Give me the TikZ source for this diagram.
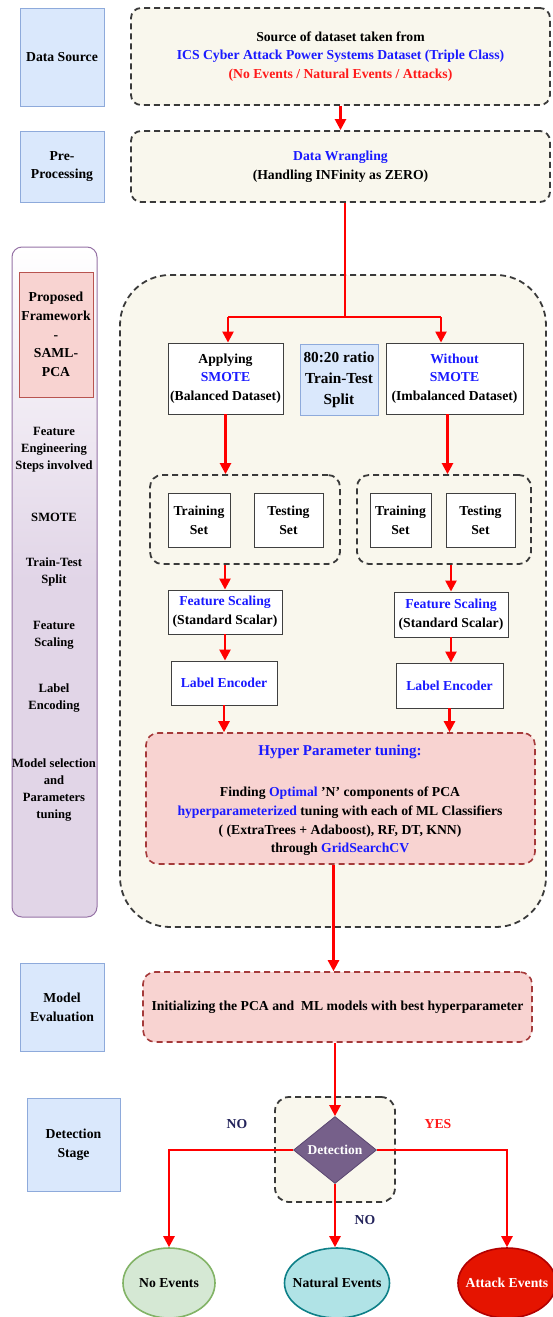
\documentclass[tikz,border=0pt]{standalone}
\usepackage{fontspec}
\setmainfont{Liberation Serif}
\usetikzlibrary{shapes.geometric,arrows.meta,calc}
\definecolor{lbF}{HTML}{DAE8FC}
\definecolor{lbB}{HTML}{8EAADB}
\definecolor{beige}{HTML}{F9F7ED}
\definecolor{dashc}{HTML}{3A3A3A}
\definecolor{pinkF}{HTML}{F8D3D1}
\definecolor{pinkB}{HTML}{B85450}
\definecolor{hpB}{HTML}{A53A3A}
\definecolor{lav}{HTML}{E1D5E7}
\definecolor{lavB}{HTML}{9673A6}
\definecolor{tblue}{HTML}{1A1AFF}
\definecolor{tred}{HTML}{FF1A1A}
\definecolor{navy}{HTML}{23235B}
\definecolor{diaF}{HTML}{76608A}
\definecolor{diaB}{HTML}{5A4670}
\definecolor{neF}{HTML}{D5E8D4}
\definecolor{neB}{HTML}{82B366}
\definecolor{natF}{HTML}{B0E3E6}
\definecolor{natB}{HTML}{0E8088}
\definecolor{attF}{HTML}{E51400}
\definecolor{attB}{HTML}{B20000}
\definecolor{conn}{HTML}{FF0000}
\tikzset{
  stagebox/.style={draw=lbB,fill=lbF,line width=0.9pt,inner sep=0pt,align=center},
  dashbox/.style={draw=dashc,fill=beige,line width=1.8pt,dash pattern=on 6pt off 4pt,rounded corners=10pt,inner sep=0pt,align=center},
  whitebox/.style={draw=black!75,fill=white,line width=0.9pt,inner sep=0pt,align=center},
  pinkbox/.style={draw=hpB,fill=pinkF,line width=1.6pt,dash pattern=on 6pt off 4pt,rounded corners=12pt,inner sep=0pt,align=center},
  paneltext/.style={align=center,font=\bfseries\fontsize{12.6}{17}\selectfont},
  wire/.style={draw=conn,line width=2.4pt},
  arr/.style={wire,-{Triangle[length=11pt,width=11pt]}},
  evt/.style={ellipse,line width=1.6pt,inner xsep=-20pt,inner ysep=0pt,minimum height=70pt,align=center}
}
\begin{document}
\begin{tikzpicture}[x=1pt,y=-1pt,font=\bfseries\fontsize{13.7}{18.7}\selectfont]
\useasboundingbox[fill=white] (0,0) rectangle (552,1317);

% stage labels
\node[stagebox,minimum width=84pt,minimum height=98pt] (ds) at (62,57) {Data Source};
\node[stagebox,minimum width=84pt,minimum height=71pt] (pp) at (62,166.5) {Pre-\\Processing};
\node[stagebox,minimum width=84pt,minimum height=88pt] (me) at (62,1007) {Model\\Evaluation};
\node[stagebox,minimum width=93pt,minimum height=93pt] (dst) at (73.5,1144.5) {Detection\\Stage};

% top boxes
\node[dashbox,minimum width=419pt,minimum height=97pt] (src) at (340.5,56.5)
  {Source of dataset taken from\\{\color{tblue}ICS Cyber Attack Power Systems Dataset (Triple Class)}\\{\color{tred}(No Events / Natural Events / Attacks)}};
\node[dashbox,minimum width=419pt,minimum height=71pt] (wr) at (340.5,166.5)
  {{\color{tblue}Data Wrangling}\\(Handling INFinity as ZERO)};

% left panel
\fill[lav,rounded corners=10pt] (12,560) rectangle (97,917);
\shade[top color=white,bottom color=lav,rounded corners=10pt] (12,247) rectangle (97,580);
\node[draw=lavB,line width=1pt,rounded corners=10pt,minimum width=85pt,minimum height=670pt,inner sep=0pt] (panel) at (54.5,582) {};
\node[draw=pinkB,fill=pinkF,line width=0.9pt,minimum width=74pt,minimum height=125pt,inner sep=0pt,align=center] (pf) at (56,334.5)
  {Proposed\\Framework\\-\\SAML-\\PCA};
\node[paneltext] (p1) at (54,450) {Feature\\Engineering\\Steps involved};
\node[paneltext] (p2) at (54,517) {SMOTE};
\node[paneltext] (p3) at (54,572) {Train-Test\\Split};
\node[paneltext] (p4) at (54,635) {Feature\\Scaling};
\node[paneltext] (p5) at (54,698) {Label\\Encoding};
\node[paneltext] (p6) at (54,790) {Model selection\\and\\Parameters\\tuning};

% big framework region
\node[dashbox,rounded corners=50pt,minimum width=426pt,minimum height=652pt] (big) at (333,601) {};

\node[whitebox,minimum width=115pt,minimum height=71pt] (apply) at (225.5,378.5)
  {Applying\\{\color{tblue}SMOTE}\\(Balanced Dataset)};
\node[stagebox,minimum width=78pt,minimum height=71pt,font=\bfseries\fontsize{15.3}{21}\selectfont] (ratio) at (339,379.5)
  {80:20 ratio\\Train-Test\\Split};
\node[whitebox,minimum width=137pt,minimum height=71pt] (wo) at (454.5,378.5)
  {{\color{tblue}Without}\\{\color{tblue}SMOTE}\\(Imbalanced Dataset)};

\node[dashbox,rounded corners=12pt,minimum width=190pt,minimum height=89pt] (gL) at (245,519.5) {};
\node[dashbox,rounded corners=12pt,minimum width=174pt,minimum height=89pt] (gR) at (444,519.5) {};
\node[whitebox,minimum width=62pt,minimum height=54pt] (trL) at (199,520) {Training\\Set};
\node[whitebox,minimum width=69pt,minimum height=54pt] (teL) at (288.5,520) {Testing\\Set};
\node[whitebox,minimum width=61pt,minimum height=54pt] (trR) at (400.5,520) {Training\\Set};
\node[whitebox,minimum width=69pt,minimum height=54pt] (teR) at (480.5,520) {Testing\\Set};

\node[whitebox,minimum width=114pt,minimum height=44pt] (fsL) at (225,612)
  {{\color{tblue}Feature Scaling}\\(Standard Scalar)};
\node[whitebox,minimum width=114pt,minimum height=45pt] (fsR) at (451,614.5)
  {{\color{tblue}Feature Scaling}\\(Standard Scalar)};
\node[whitebox,minimum width=106pt,minimum height=44pt] (leL) at (224,683) {\color{tblue}Label Encoder};
\node[whitebox,minimum width=107pt,minimum height=45pt] (leR) at (449.5,685.5) {\color{tblue}Label Encoder};

\node[pinkbox,minimum width=389pt,minimum height=131pt] (hp) at (340.5,798.5) {};
\node[font=\bfseries\fontsize{15}{18}\selectfont,text=tblue] (hpt) at (340,752) {Hyper Parameter tuning:};
\node[align=center] (hpb) at (340,821.5)
  {Finding {\color{tblue}Optimal} 'N' components of PCA\\{\color{tblue}hyperparameterized} tuning with each of ML Classifiers\\( (ExtraTrees + Adaboost), RF, DT, KNN)\\through {\color{tblue}GridSearchCV}};

\node[pinkbox,minimum width=389pt,minimum height=70pt] (init) at (337.5,1007)
  {Initializing the PCA and\ \ ML models with best hyperparameter};

% detection
\node[dashbox,rounded corners=14pt,minimum width=120pt,minimum height=105pt] (dbox) at (335,1149.5) {};
\node[diamond,draw=diaB,fill=diaF,line width=0.8pt,minimum width=83pt,minimum height=67pt,inner sep=0pt,text=white,font=\bfseries\fontsize{13.5}{15}\selectfont] (dia) at (335,1150) {Detection};

\node[evt,draw=neB,fill=neF,minimum width=92pt] (ne) at (169,1283) {No Events};
\node[evt,draw=natB,fill=natF,minimum width=105pt] (nat) at (337,1283) {Natural Events};
\node[evt,draw=attB,fill=attF,minimum width=98pt,text=white] (att) at (507,1283) {Attack Events};

\node[text=navy] (no1) at (237,1124) {NO};
\node[text=tred] (yes) at (438,1124) {YES};
\node[text=navy] (no2) at (365,1220) {NO};

% connectors
\coordinate (br) at (345,317);
\coordinate (bl) at (228,317);
\coordinate (brr) at (441,317);
\draw[arr] (src) -- (wr);
\draw[wire] (wr.south -| br) -- (br);
\draw[wire] (bl) -- (brr);
\draw[arr] (bl) -- (bl |- apply.north);
\draw[arr] (brr) -- (brr |- wo.north);
\draw[arr] (apply.south) -- (apply.south |- gL.north);
\draw[arr] ([xshift=-7pt]wo.south) -- ([xshift=-7pt]wo.south |- gR.north);
\draw[arr] (gL.south -| fsL.north) -- (fsL.north);
\draw[arr] (gR.south -| fsR.north) -- (fsR.north);
\draw[arr] (fsL.south) -- (fsL.south |- leL.north);
\draw[arr] (fsR.south) -- (fsR.south |- leR.north);
\draw[arr] (leL.south) -- (leL.south |- hp.north);
\draw[arr] (leR.south) -- (leR.south |- hp.north);
\draw[arr] ([xshift=-7pt]hp.south) -- ([xshift=-7pt]hp.south |- init.north);
\draw[arr] (init.south -| dia.north) -- (dia.north);
\draw[arr] (dia.west) -| (ne.north);
\draw[arr] (dia.east) -| (att.north);
\draw[arr] (dia.south) -- (dia.south |- nat.north);
\end{tikzpicture}
\end{document}
